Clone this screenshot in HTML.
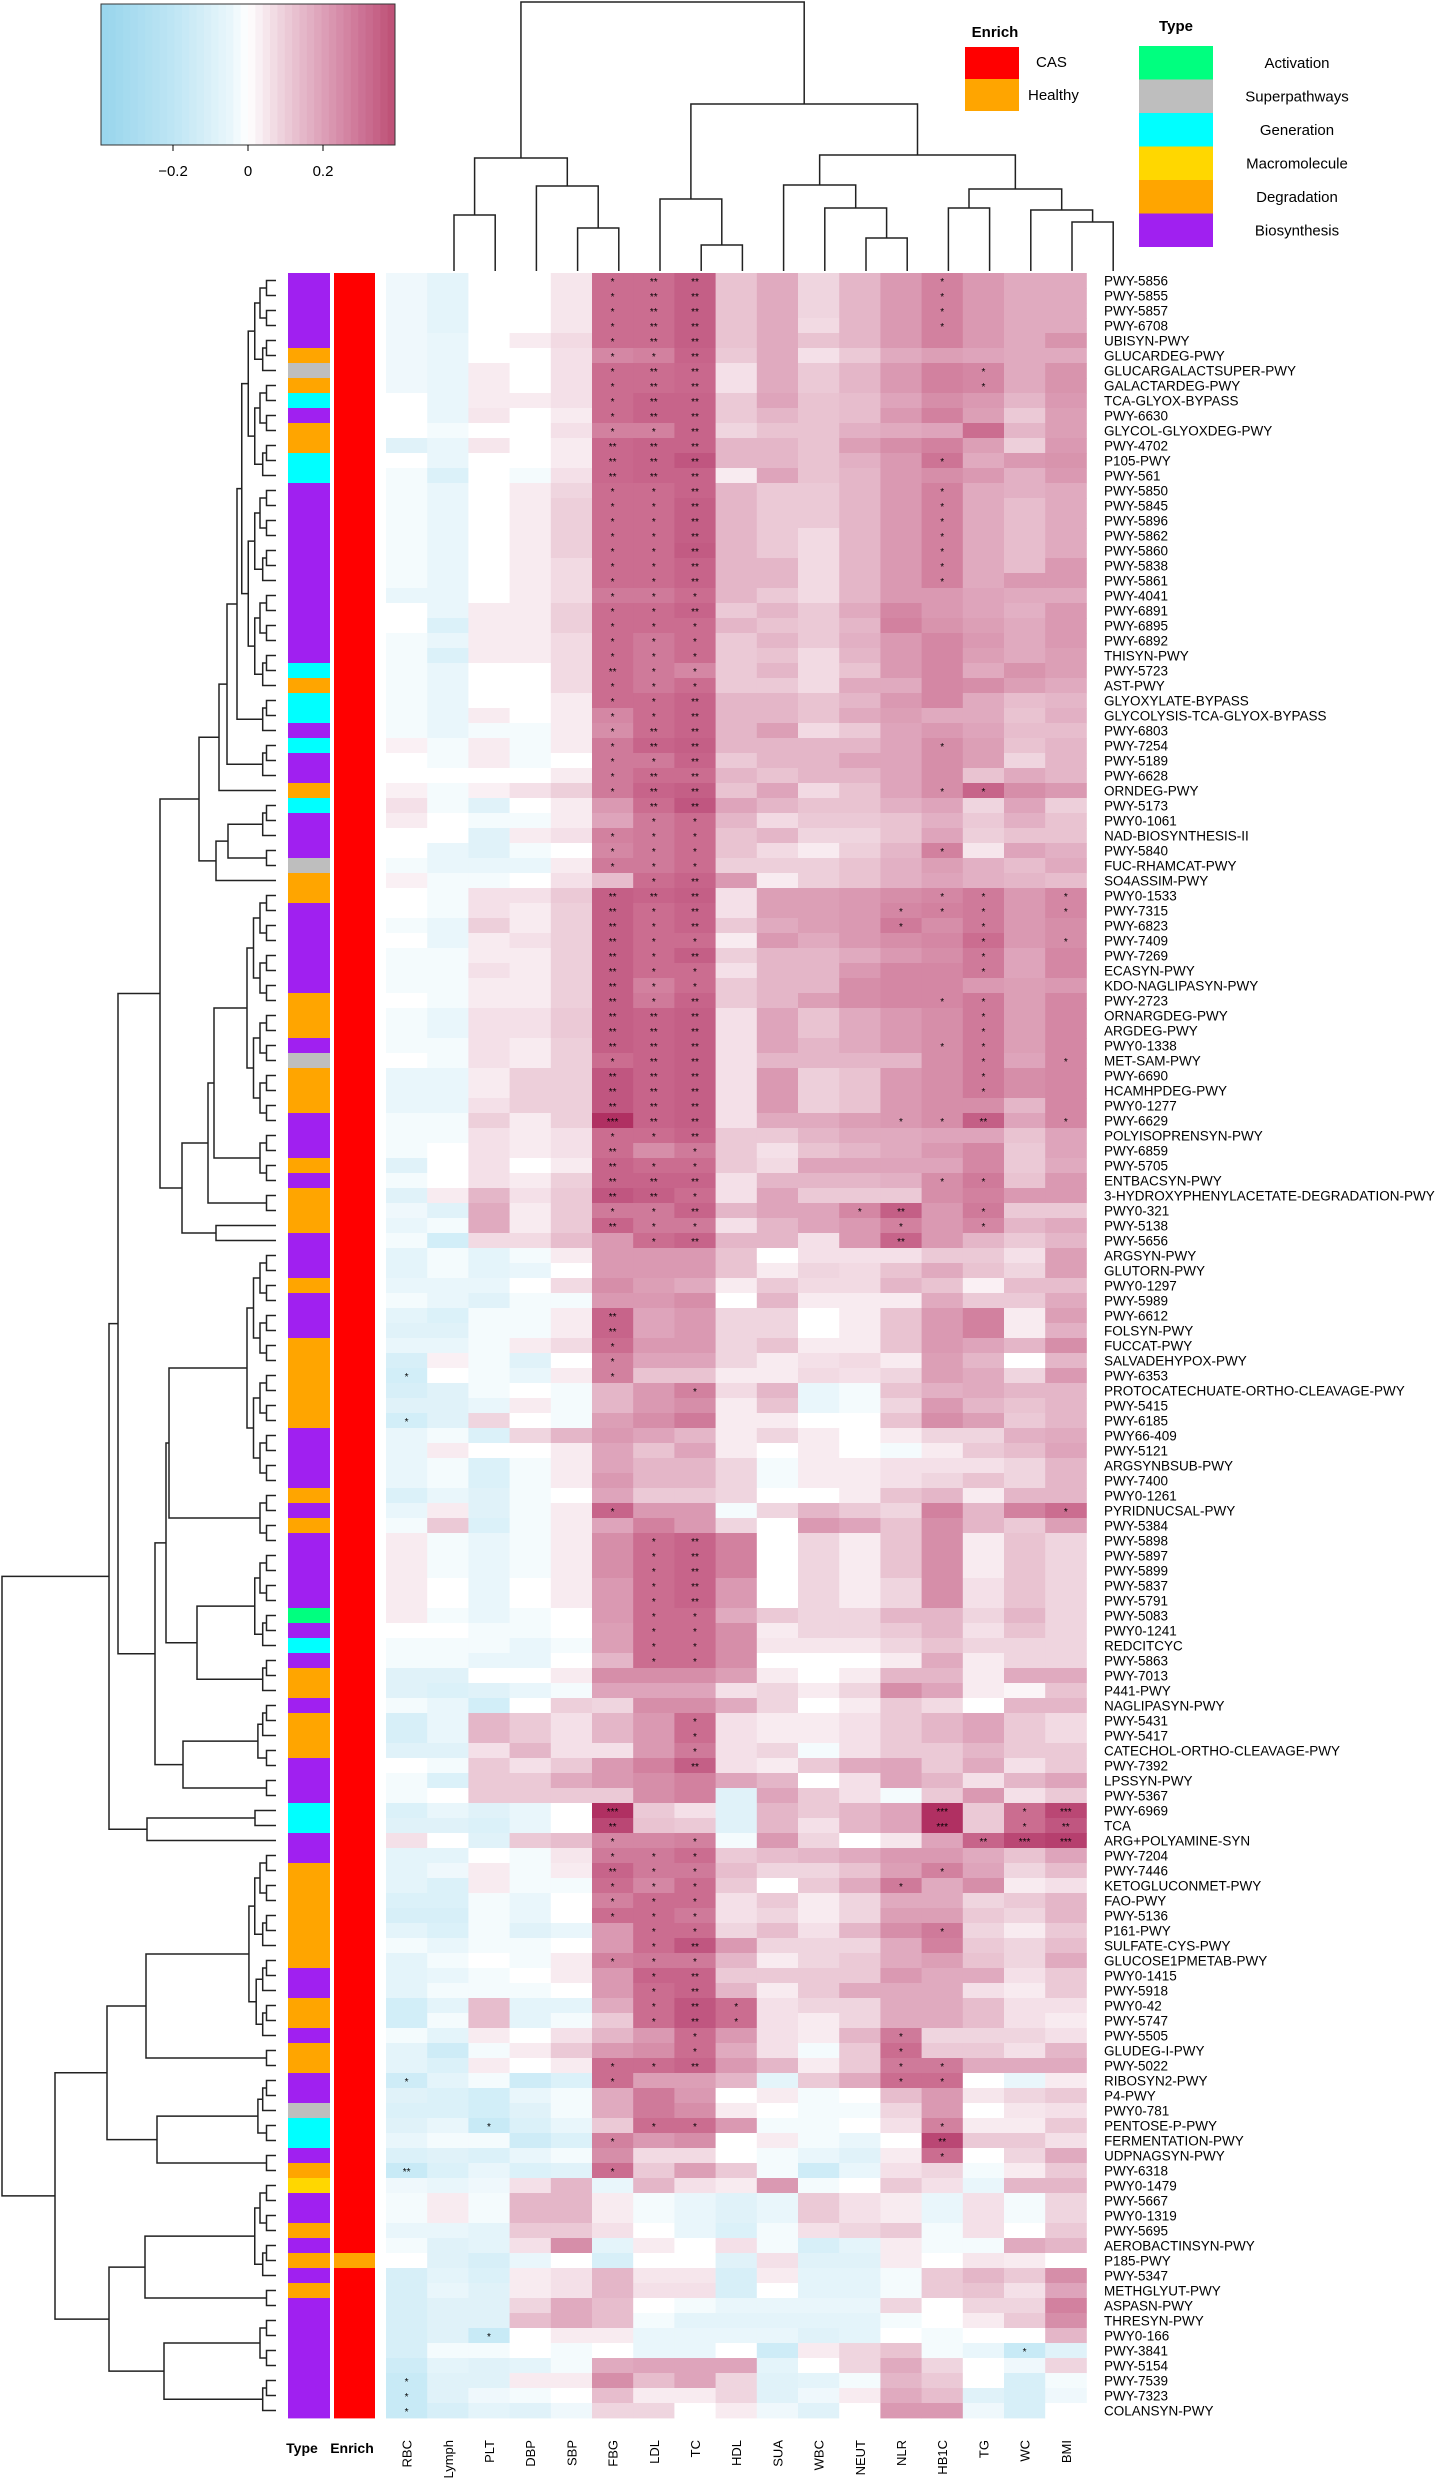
<!DOCTYPE html>
<html><head><meta charset="utf-8"><title>Correlation heatmap</title>
<style>
html,body{margin:0;padding:0;background:#fff;}
svg{display:block;font-family:"Liberation Sans",Arial,sans-serif;}
</style></head>
<body>
<svg id="chart" width="1450" height="2481" viewBox="0 0 1450 2481" xmlns="http://www.w3.org/2000/svg"></svg>
<script>
const cols=['RBC','Lymph','PLT','DBP','SBP','FBG','LDL','TC','HDL','SUA','WBC','NEUT','NLR','HB1C','TG','WC','BMI'];
const rowNames=['PWY-5856','PWY-5855','PWY-5857','PWY-6708','UBISYN-PWY','GLUCARDEG-PWY','GLUCARGALACTSUPER-PWY','GALACTARDEG-PWY','TCA-GLYOX-BYPASS','PWY-6630',
'GLYCOL-GLYOXDEG-PWY','PWY-4702','P105-PWY','PWY-561','PWY-5850','PWY-5845','PWY-5896','PWY-5862','PWY-5860','PWY-5838',
'PWY-5861','PWY-4041','PWY-6891','PWY-6895','PWY-6892','THISYN-PWY','PWY-5723','AST-PWY','GLYOXYLATE-BYPASS','GLYCOLYSIS-TCA-GLYOX-BYPASS',
'PWY-6803','PWY-7254','PWY-5189','PWY-6628','ORNDEG-PWY','PWY-5173','PWY0-1061','NAD-BIOSYNTHESIS-II','PWY-5840','FUC-RHAMCAT-PWY',
'SO4ASSIM-PWY','PWY0-1533','PWY-7315','PWY-6823','PWY-7409','PWY-7269','ECASYN-PWY','KDO-NAGLIPASYN-PWY','PWY-2723','ORNARGDEG-PWY',
'ARGDEG-PWY','PWY0-1338','MET-SAM-PWY','PWY-6690','HCAMHPDEG-PWY','PWY0-1277','PWY-6629','POLYISOPRENSYN-PWY','PWY-6859','PWY-5705',
'ENTBACSYN-PWY','3-HYDROXYPHENYLACETATE-DEGRADATION-PWY','PWY0-321','PWY-5138','PWY-5656','ARGSYN-PWY','GLUTORN-PWY','PWY0-1297','PWY-5989','PWY-6612',
'FOLSYN-PWY','FUCCAT-PWY','SALVADEHYPOX-PWY','PWY-6353','PROTOCATECHUATE-ORTHO-CLEAVAGE-PWY','PWY-5415','PWY-6185','PWY66-409','PWY-5121','ARGSYNBSUB-PWY',
'PWY-7400','PWY0-1261','PYRIDNUCSAL-PWY','PWY-5384','PWY-5898','PWY-5897','PWY-5899','PWY-5837','PWY-5791','PWY-5083',
'PWY0-1241','REDCITCYC','PWY-5863','PWY-7013','P441-PWY','NAGLIPASYN-PWY','PWY-5431','PWY-5417','CATECHOL-ORTHO-CLEAVAGE-PWY','PWY-7392',
'LPSSYN-PWY','PWY-5367','PWY-6969','TCA','ARG+POLYAMINE-SYN','PWY-7204','PWY-7446','KETOGLUCONMET-PWY','FAO-PWY','PWY-5136',
'P161-PWY','SULFATE-CYS-PWY','GLUCOSE1PMETAB-PWY','PWY0-1415','PWY-5918','PWY0-42','PWY-5747','PWY-5505','GLUDEG-I-PWY','PWY-5022',
'RIBOSYN2-PWY','P4-PWY','PWY0-781','PENTOSE-P-PWY','FERMENTATION-PWY','UDPNAGSYN-PWY','PWY-6318','PWY0-1479','PWY-5667','PWY0-1319',
'PWY-5695','AEROBACTINSYN-PWY','P185-PWY','PWY-5347','METHGLYUT-PWY','ASPASN-PWY','THRESYN-PWY','PWY0-166','PWY-3841','PWY-5154',
'PWY-7539','PWY-7323','COLANSYN-PWY'];
const rowTypes=('BBBBBDSDGB'+'DDGGBBBBBB'+'BBBBBBGDGG'+'BGBBDGBBBS'+'DDBBBBBBDD'+'DBSDDDBBBD'+'BDDDBBBDBB'+'BDDDDDDBBB'+'BDBDBBBBBA'+'BGBDDBDDDB'+'BBGGBBDDDD'+'DDDBBDDBDD'+'BBSGGBDMBB'+'DBDBDBBBBB'+'BBB').split('');
const rowEnrich=rowNames.map((n)=>n==='P185-PWY'?'Healthy':'CAS');
// correlation values in units of 0.01, one row per pathway, columns as in cols
const vals=[
[-3,-5,0,0,5,25,25,28,11,15,8,13,18,22,18,15,15],
[-3,-5,0,0,5,25,25,28,11,15,8,13,18,22,18,15,15],
[-3,-5,0,0,5,25,25,28,11,15,8,13,18,22,18,15,15],
[-3,-5,0,0,5,25,25,28,11,15,7,13,18,22,18,15,15],
[-3,-4,0,4,7,25,25,28,11,15,11,13,18,22,18,15,19],
[-3,-4,0,0,6,21,22,27,10,15,6,10,15,17,16,15,15],
[-3,-4,4,0,6,25,25,26,6,15,10,13,18,22,21,15,19],
[-3,-4,4,0,6,25,25,26,6,15,10,13,18,22,21,15,19],
[0,-4,4,4,6,25,27,27,10,16,11,12,16,20,18,13,18],
[0,-4,5,0,4,25,27,27,10,13,11,12,18,22,17,10,17],
[0,-2,0,0,6,22,22,27,8,11,11,14,15,16,25,13,17],
[-6,-4,5,0,4,26,27,27,13,13,11,17,20,22,17,9,18],
[0,-4,0,0,4,26,27,30,13,13,11,14,18,24,15,18,19],
[-2,-7,0,-2,6,26,27,27,4,16,11,13,18,20,18,14,18],
[-2,-4,0,4,8,25,25,27,13,10,10,13,18,22,15,14,15],
[-2,-4,0,4,9,25,25,28,13,10,10,13,18,22,15,12,15],
[-2,-4,0,4,9,25,25,28,13,10,10,13,18,22,15,12,15],
[-2,-4,0,4,9,25,25,28,13,10,7,13,18,22,15,12,15],
[-2,-4,0,4,9,25,25,29,13,10,7,13,18,22,15,12,15],
[-2,-4,0,4,7,25,25,27,13,13,7,13,18,22,15,12,18],
[-2,-4,0,4,7,25,25,27,13,13,7,13,18,22,15,18,18],
[-4,-4,0,4,7,23,23,25,13,10,7,13,18,18,16,15,15],
[0,-4,4,4,9,25,25,27,10,13,10,15,21,18,16,14,18],
[0,-7,4,4,9,25,25,25,13,11,10,13,22,19,17,15,18],
[-2,-4,4,4,7,25,23,25,10,13,10,14,18,21,18,15,18],
[-2,-7,4,4,7,25,23,25,10,11,7,13,18,21,17,15,17],
[-2,-4,0,0,7,25,23,21,10,13,7,11,18,21,15,19,17],
[-2,-4,0,0,7,25,23,25,10,10,7,15,15,21,20,17,15],
[-2,-4,0,0,4,25,25,27,13,13,11,13,18,21,15,12,13],
[-2,-4,4,0,4,21,25,27,13,13,11,15,17,15,15,11,14],
[-2,-4,-2,-2,4,20,25,27,13,17,7,10,16,18,16,12,12],
[3,-2,4,-2,4,23,27,28,13,13,13,13,16,20,17,11,13],
[0,-2,4,-2,0,23,23,27,10,13,13,16,16,20,17,8,13],
[0,0,0,0,4,23,25,25,13,11,13,13,16,20,11,15,13],
[3,-2,3,6,9,23,27,28,11,16,7,11,16,20,27,20,18],
[6,-2,-6,0,4,18,25,30,16,13,11,11,14,16,8,16,9],
[4,0,-2,-2,4,16,23,25,13,7,10,10,11,14,10,14,11],
[0,0,-6,4,6,22,23,25,11,13,8,8,11,16,9,11,11],
[0,-4,-6,-2,0,21,23,25,11,7,4,9,13,22,5,16,14],
[-2,-4,-4,-4,4,23,23,25,9,9,9,11,14,17,14,12,15],
[3,-2,-2,0,6,12,25,27,18,4,9,11,14,16,14,13,12],
[0,-2,6,6,10,28,27,28,6,17,17,18,20,21,23,18,21],
[0,-2,6,4,9,28,25,27,6,17,17,18,21,22,23,18,21],
[-2,-4,9,4,9,28,25,27,10,15,17,18,23,20,23,18,20],
[0,-4,4,6,9,28,25,25,4,18,15,18,20,21,25,18,20],
[-2,-2,4,4,9,28,25,28,9,13,13,15,18,20,23,16,21],
[-2,-2,6,4,9,28,25,25,6,13,13,18,21,21,23,16,21],
[-2,-2,4,4,9,28,22,25,10,13,13,20,21,21,18,17,18],
[0,-2,4,4,9,28,23,27,10,13,17,20,21,21,23,17,21],
[-2,-4,6,6,10,28,27,28,6,16,11,15,18,20,23,17,21],
[-2,-4,6,6,10,28,27,28,6,16,11,15,18,20,23,17,21],
[-2,-2,6,4,9,28,27,28,6,16,13,15,18,20,23,17,21],
[0,-2,6,4,9,25,27,28,6,13,13,13,13,20,23,16,21],
[-4,-4,4,9,9,30,27,28,6,18,9,11,18,20,23,20,21],
[-4,-4,4,9,9,30,27,28,6,18,9,11,18,20,23,20,21],
[-4,-4,6,9,9,30,27,28,6,18,9,11,18,20,20,13,21],
[-2,-2,9,4,9,35,27,28,6,15,15,17,18,20,28,16,21],
[-2,-2,6,4,6,25,25,27,10,10,13,15,15,16,16,11,16],
[-2,0,6,4,6,25,20,23,10,6,11,13,15,18,21,10,16],
[-6,0,6,0,4,27,25,25,10,7,16,16,16,16,21,10,15],
[-2,0,6,4,9,27,27,27,6,13,13,13,14,20,23,11,18],
[-6,4,13,6,10,30,28,25,6,16,10,10,10,20,22,18,18],
[-3,-6,15,4,10,23,23,27,13,16,16,21,28,18,23,10,10],
[-4,-2,15,4,10,27,23,23,6,13,16,18,22,18,21,13,15],
[-2,-9,7,7,12,18,25,27,13,13,6,18,27,18,13,10,13],
[-5,-2,-5,-2,4,18,18,18,11,0,6,6,6,10,10,6,17],
[-5,-2,-5,-4,0,18,18,18,11,4,8,7,11,15,11,8,17],
[-4,-4,-4,0,7,20,17,15,4,10,7,7,13,11,3,12,12],
[-2,-4,-6,-2,-2,18,18,20,0,13,4,4,4,15,10,10,15],
[-5,-7,-2,-2,4,27,16,18,8,8,0,4,11,18,22,4,17],
[-6,-6,-2,-2,4,27,16,18,8,8,0,4,11,18,22,4,14],
[-4,-4,-2,4,7,25,18,18,8,11,4,4,11,18,16,13,20],
[-8,3,-2,-6,0,22,16,16,8,4,6,7,4,17,13,0,13],
[-9,0,-2,-4,4,22,11,11,4,4,7,6,8,17,15,8,18],
[-8,-6,-2,0,-2,13,18,22,7,13,-4,-2,11,14,15,13,13],
[-6,-6,-4,4,-2,13,18,20,4,11,-4,-2,8,18,13,11,13],
[-9,-6,8,0,-2,17,20,23,4,4,0,0,11,20,17,10,13],
[-4,-2,-7,8,13,18,16,13,4,8,4,0,4,8,8,14,15],
[-4,4,0,0,4,16,11,16,4,0,4,0,-2,4,10,12,16],
[-4,-2,-7,-2,4,16,13,13,8,-2,4,4,6,6,6,8,13],
[-4,-2,-7,-2,4,18,13,13,8,-2,4,4,6,8,11,8,13],
[-7,-4,-6,-2,0,16,10,10,8,0,0,4,11,13,4,13,13],
[-4,4,-6,-2,4,27,18,18,-2,8,13,10,8,22,13,22,25],
[-2,10,-7,-2,4,16,22,18,8,0,18,16,11,20,13,10,17],
[4,-2,-4,-2,4,20,25,27,22,0,8,4,11,20,4,11,8],
[4,-2,-4,-2,4,20,25,27,22,0,8,4,11,20,4,11,8],
[4,-2,-4,-2,4,20,25,27,22,0,8,4,11,20,4,11,8],
[4,0,-4,0,4,18,25,27,18,0,8,4,8,20,6,11,8],
[4,0,-4,0,4,18,25,27,18,0,8,4,8,20,6,11,8],
[4,-2,-4,-2,0,18,25,25,15,10,8,8,13,13,8,13,8],
[0,0,-2,-2,0,17,25,25,20,4,8,8,10,13,6,11,8],
[-2,-2,-2,-4,-2,17,25,25,20,5,5,5,8,11,8,8,8],
[-2,-2,-4,-4,0,13,25,25,20,0,0,0,4,15,4,8,8],
[-6,-6,0,0,4,20,20,20,17,4,0,4,13,13,4,15,15],
[-6,-7,-6,-4,-2,16,16,16,6,8,4,8,20,16,4,2,11],
[-2,-4,-9,0,9,8,20,20,15,8,0,4,10,7,0,13,13],
[-8,-4,13,10,6,13,18,25,6,4,4,6,10,13,16,10,7],
[-8,-4,13,10,6,13,18,25,6,4,4,6,10,13,16,10,7],
[-6,-6,6,13,6,6,18,23,6,8,-2,6,10,10,13,10,10],
[0,-2,10,6,10,18,22,28,6,4,10,15,16,10,15,6,10],
[-2,-7,10,10,15,18,20,22,16,13,0,6,16,13,6,13,16],
[-2,0,10,10,10,10,20,22,-6,16,10,6,-2,10,18,6,10],
[-7,-4,-6,-4,0,35,10,6,-6,13,10,13,16,35,10,25,32],
[-6,-6,-7,-4,0,32,11,10,-6,13,6,13,16,35,10,25,30],
[6,0,-6,10,12,21,21,22,-2,18,8,0,5,16,27,32,33],
[-5,-5,0,-2,5,23,23,25,10,12,13,15,18,18,15,11,16],
[-5,-3,4,-2,4,27,23,23,12,8,8,11,17,22,16,8,12],
[-5,-7,4,-2,-2,25,21,25,10,0,10,15,23,15,20,4,6],
[-7,-7,-2,-4,0,22,25,25,6,10,4,8,15,15,8,10,13],
[-8,-8,-2,-4,0,25,25,23,6,8,4,8,17,17,10,8,13],
[-5,-7,-2,-6,-4,18,25,25,8,12,6,13,20,23,8,4,10],
[-2,-4,-2,-2,0,18,25,30,18,8,8,8,15,22,10,8,12],
[-5,-2,0,-2,4,22,23,23,13,4,8,10,15,17,11,8,15],
[-5,-4,-2,0,4,18,27,27,10,10,10,10,18,15,15,6,10],
[-5,-2,-2,-2,0,18,25,27,13,4,10,15,15,15,6,4,10],
[-9,-5,12,-5,-5,15,25,30,25,6,8,8,15,15,12,6,6],
[-9,-2,12,-5,-2,10,25,30,25,6,4,8,15,15,12,6,4],
[-2,-5,4,0,6,13,18,25,18,6,4,13,23,8,8,8,6],
[-5,-10,-2,4,10,18,20,25,15,6,-2,10,25,10,10,6,13],
[-5,-7,4,0,4,25,25,27,18,13,4,10,23,23,15,15,15],
[-10,-5,-2,-10,-7,25,17,17,13,-5,10,15,25,25,0,-4,4],
[-6,-7,-9,-4,-2,15,23,18,0,4,-2,0,12,18,5,8,10],
[-7,-7,-9,-6,-2,15,23,20,4,0,-2,-2,8,18,0,5,6],
[-6,-4,-12,-7,-4,10,25,25,18,-2,-2,0,6,22,4,4,10],
[-4,-2,-2,-10,-7,22,18,20,0,4,-2,-4,0,32,10,10,6],
[-7,-6,-7,-4,-2,20,7,7,0,-2,-4,-6,4,25,0,8,15],
[-12,-7,-4,-7,-6,25,10,17,10,-2,-10,-4,6,8,-2,4,10],
[-3,-4,-3,6,13,-4,13,6,4,18,-2,0,10,6,-4,13,13],
[-2,4,-2,13,13,4,-2,-4,-6,-4,10,6,4,-4,6,-2,8],
[-2,4,-2,13,13,4,-2,-4,-6,-4,10,6,4,-4,6,-2,8],
[-4,-4,-5,10,10,6,0,-4,-7,-2,6,8,10,-2,6,0,10],
[-2,-6,-5,6,20,-5,4,0,6,-2,-8,-5,4,-2,-2,15,13],
[0,-6,-8,-4,0,-8,0,0,-6,6,-6,-6,4,0,5,4,0],
[-8,-5,-7,4,6,13,5,5,-8,4,-5,-5,-2,10,13,10,20],
[-8,-4,-6,4,6,13,6,6,-8,0,-5,-5,-2,10,11,6,16],
[-8,-6,-6,8,15,12,0,-2,-4,-4,-4,-4,8,0,8,8,22],
[-8,-6,-6,12,15,12,-2,-5,-5,-5,-5,-5,-2,0,4,10,20],
[-8,-6,-12,0,4,4,-4,-4,-4,-4,-6,-5,0,-2,0,0,13],
[-8,-2,-2,0,-2,0,-4,-4,0,-10,4,8,11,-2,-4,-12,-6],
[-10,-5,-6,-5,-2,15,16,16,16,-5,0,8,15,8,0,-3,8],
[-12,-6,-6,4,4,20,12,16,8,-6,-5,-2,13,10,0,-8,-2],
[-12,-6,-3,-2,0,12,4,4,8,-6,-3,4,15,12,-6,-8,-3],
[-12,-8,-5,-6,-3,8,8,0,4,-3,-6,0,18,18,-3,-8,0]
];
// significance marks: row index -> "col:mark" list
const sig={0:'5*|6**|7**|13*',1:'5*|6**|7**|13*',2:'5*|6**|7**|13*',3:'5*|6**|7**|13*',4:'5*|6**|7**',5:'5*|6*|7**',
6:'5*|6**|7**|14*',7:'5*|6**|7**|14*',8:'5*|6**|7**',9:'5*|6**|7**',10:'5*|6*|7**',11:'5**|6**|7**',12:'5**|6**|7**|13*',
13:'5**|6**|7**',14:'5*|6*|7**|13*',15:'5*|6*|7**|13*',16:'5*|6*|7**|13*',17:'5*|6*|7**|13*',18:'5*|6*|7**|13*',19:'5*|6*|7**|13*',
20:'5*|6*|7**|13*',21:'5*|6*|7*',22:'5*|6*|7**',23:'5*|6*|7*',24:'5*|6*|7*',25:'5*|6*|7*',26:'5**|6*|7*',27:'5*|6*|7*',
28:'5*|6*|7**',29:'5*|6*|7**',30:'5*|6**|7**',31:'5*|6**|7**|13*',32:'5*|6*|7**',33:'5*|6**|7**',34:'5*|6**|7**|13*|14*',
35:'6**|7**',36:'6*|7*',37:'5*|6*|7*',38:'5*|6*|7*|13*',39:'5*|6*|7*',40:'6*|7**',41:'5**|6**|7**|13*|14*|16*',
42:'5**|6*|7**|12*|13*|14*|16*',43:'5**|6*|7**|12*|14*',44:'5**|6*|7*|14*|16*',45:'5**|6*|7**|14*',46:'5**|6*|7*|14*',
47:'5**|6*|7*',48:'5**|6*|7**|13*|14*',49:'5**|6**|7**|14*',50:'5**|6**|7**|14*',51:'5**|6**|7**|13*|14*',52:'5*|6**|7**|14*|16*',
53:'5**|6**|7**|14*',54:'5**|6**|7**|14*',55:'5**|6**|7**',56:'5***|6**|7**|12*|13*|14**|16*',57:'5*|6*|7**',58:'5**|7*',
59:'5**|6*|7*',60:'5**|6**|7**|13*|14*',61:'5**|6**|7*',62:'5*|6*|7**|11*|12**|14*',63:'5**|6*|7*|12*|14*',64:'6*|7**|12**',
69:'5**',70:'5**',71:'5*',72:'5*',73:'0*|5*',74:'7*',76:'0*',82:'5*|16*',84:'6*|7**',85:'6*|7**',86:'6*|7**',87:'6*|7**',
88:'6*|7**',89:'6*|7*',90:'6*|7*',91:'6*|7*',92:'6*|7*',96:'7*',97:'7*',98:'7*',99:'7**',102:'5***|13***|15*|16***',
103:'5**|13***|15*|16**',104:'5*|7*|14**|15***|16***',105:'5*|6*|7*',106:'5**|6*|7*|13*',107:'5*|6*|7*|12*',108:'5*|6*|7*',
109:'5*|6*|7*',110:'6*|7*|13*',111:'6*|7**',112:'5*|6*|7*',113:'6*|7**',114:'6*|7**',115:'6*|7**|8*',116:'6*|7**|8*',
117:'7*|12*',118:'7*|12*',119:'5*|6*|7**|12*|13*',120:'0*|5*|12*|13*',123:'2*|6*|7*|13*',124:'5*|13**',125:'13*',
126:'0**|5*',137:'2*',138:'15*',140:'0*',141:'0*',142:'0*'};
// column dendrogram: [height, left, right], leaves = column-leaf index
const colTree=[269,[113,[56,0,1],[85,2,[43,3,4]]],[167,[72,5,[26,6,7]],[116,[86,8,[63,9,[33,10,11]]],[82,[63,12,13],[61,14,[49,15,16]]]]]];
const typeColors={A:'#00FF7F',S:'#BEBEBE',G:'#00FFFF',M:'#FFD700',D:'#FFA500',B:'#A020F0'};
const typeLabels=[['A','Activation'],['S','Superpathways'],['G','Generation'],['M','Macromolecule'],['D','Degradation'],['B','Biosynthesis']];
const enrichColors={CAS:'#FF0000',Healthy:'#FFA500'};

const NS='http://www.w3.org/2000/svg';
const svg=document.getElementById('chart');
const X0=386, CW=41.2, Y0=273, RH=15;
const xCol=i=>X0+i*CW;
const yRow=r=>Y0+r*RH;
function mk(tag,attrs,parent){const e=document.createElementNS(NS,tag);for(const k in attrs)e.setAttribute(k,attrs[k]);(parent||svg).appendChild(e);return e;}
const stops=[[-0.40,[130,204,234]],[-0.2,[178,224,242]],[-0.1,[206,236,247]],[-0.05,[228,244,250]],[0,[255,255,255]],[0.05,[246,230,236]],[0.1,[235,201,214]],[0.15,[224,170,191]],[0.2,[214,142,169]],[0.25,[203,109,144]],[0.3,[192,86,128]],[0.35,[176,48,98]],[0.4,[168,32,88]]];
function colorFrom(st,v){v=Math.max(-0.4,Math.min(0.4,v));for(let i=1;i<st.length;i++){if(v<=st[i][0]){const a=st[i-1],b=st[i];const t=(v-a[0])/(b[0]-a[0]);const c=a[1].map((x,j)=>Math.round(x+(b[1][j]-x)*t));return `rgb(${c[0]},${c[1]},${c[2]})`;}}const l=st[st.length-1][1];return `rgb(${l[0]},${l[1]},${l[2]})`;}
const color=v=>colorFrom(stops,v);
const keyStops=[[-0.40,[150,212,236]],[-0.2,[190,229,244]],[-0.05,[232,246,251]],[0,[255,255,255]],[0.1,[236,204,216]],[0.2,[221,160,184]],[0.3,[205,116,150]],[0.4,[188,76,114]]];

// heatmap cells
const gH=mk('g',{});


vals.forEach((row,r)=>{row.forEach((v,c)=>{
  const cell=mk('rect',{x:xCol(c),y:yRow(r),width:CW+0.4,height:RH+0.4,fill:color(v/100)},gH);
  
  
});});
// significance
const gS=mk('g',{'font-size':'10','text-anchor':'middle',fill:'#000'});


Object.keys(sig).forEach(k=>{const r=+k;sig[k].split('|').forEach(s=>{const c=parseInt(s);const m=s.replace(/^\d+/,'');
  const t=mk('text',{x:xCol(c)+CW/2,y:yRow(r)+RH/2+4.5},gS);t.textContent=m;
  
  });});
// annotation columns
rowTypes.forEach((t,r)=>{const e=mk('rect',{x:288,y:yRow(r),width:42,height:RH+0.4,fill:typeColors[t]});
  
  
  const f=mk('rect',{x:334,y:yRow(r),width:41,height:RH+0.4,fill:enrichColors[rowEnrich[r]]});
  
  });
// row labels
const gL=mk('g',{'font-size':'13.5',fill:'#000'});


rowNames.forEach((n,r)=>{const t=mk('text',{x:1104,y:yRow(r)+RH/2+5},gL);t.textContent=n;
  
  });
// column labels
cols.forEach((n,c)=>{const cx=xCol(c)+CW/2+5;const t=mk('text',{x:cx,y:2440,'font-size':'13','text-anchor':'end',transform:`rotate(-90 ${cx} 2440)`});t.textContent=n;
  
  });
[['Type',302],['Enrich',352]].forEach(([n,x])=>{const t=mk('text',{x:x,y:2453,'font-size':'14','font-weight':'bold','text-anchor':'middle'});t.textContent=n;
  
  });

// column dendrogram
const gD=mk('g',{stroke:'#222','stroke-width':'1.5',fill:'none'});


const LEAF0=454, LBOT=271;
function drawCol(n){if(typeof n==='number')return {x:LEAF0+n*CW,y:LBOT};
  const a=drawCol(n[1]),b=drawCol(n[2]);const y=LBOT-n[0];
  mk('path',{d:`M${a.x},${a.y}V${y}H${b.x}V${b.y}`},gD);return {x:(a.x+b.x)/2,y:y};}
drawCol(colTree);

// row dendrogram
const G=(a,b)=>{if(a===b)return a;const m=Math.floor((a+b)/2);const n=b-a+1;return [276-3-6.5*Math.log2(n),G(a,m),G(m+1,b)];};
const rowTree=[2,
 [109,[118,
   [160,[199,[219,[227,[237,G(0,27),G(28,30)],G(31,33)],34],[216,[228,G(35,37),G(38,39)],40]],
        [182,[208,[214,G(41,56),G(57,60)],G(61,62)],[216,63,64]]],
   [155,[166,[168,G(65,80),G(81,84)],[197,G(85,91),G(92,94)]],[183,G(95,99),G(100,101)]]],
  [147,[255,102,103],104]],
 [55,[107,[146,G(105,117),G(118,119)],[157,G(120,124),G(125,126)]],
     [109,[145,G(127,133),G(134,135)],[164,G(136,139),G(140,142)]]]];
const gR=mk('g',{stroke:'#222','stroke-width':'1.5',fill:'none'});


const LRIGHT=276;
function drawRow(n,px){if(typeof n==='number')return {x:LRIGHT,y:yRow(n)+RH/2};
  const x=Math.max(n[0],px+3);const a=drawRow(n[1],x),b=drawRow(n[2],x);
  mk('path',{d:`M${a.x},${a.y}H${x}V${b.y}H${b.x}`},gR);return {x:x,y:(a.y+b.y)/2};}
drawRow(rowTree,-10);

// color key
const gK=mk('g',{});


const kx=v=>248+v*375;
for(let i=0;i<40;i++){const v0=-0.392+i*0.0196;mk('rect',{x:kx(v0),y:4,width:0.0196*375+0.5,height:141,fill:colorFrom(keyStops,v0+0.0098)},gK);}
mk('rect',{x:kx(-0.392),y:4,width:0.784*375,height:141,fill:'none',stroke:'#333','stroke-width':'1'},gK);
[-0.2,0,0.2].forEach(v=>{mk('line',{x1:kx(v),x2:kx(v),y1:145,y2:151,stroke:'#000'},gK);
  const t=mk('text',{x:kx(v),y:176,'font-size':'15','text-anchor':'middle'},gK);t.textContent=(v===0?'0':(v<0?'\u22120.2':'0.2'));
  
  });

// enrich legend
const gE=mk('g',{'font-size':'15'});


let t=mk('text',{x:995,y:37,'text-anchor':'middle','font-weight':'bold'},gE);t.textContent='Enrich';
[['CAS',47,1036,67],['Healthy',79,1028,100]].forEach(([n,y,tx,ty])=>{const r=mk('rect',{x:965,y:y,width:54,height:32,fill:enrichColors[n]},gE);
  
  
  const l=mk('text',{x:tx,y:ty},gE);l.textContent=n;});
// type legend
const gT=mk('g',{'font-size':'15'});


t=mk('text',{x:1176,y:31,'text-anchor':'middle','font-weight':'bold'},gT);t.textContent='Type';
typeLabels.forEach(([k,n],i)=>{const y=46+i*33.5;const r=mk('rect',{x:1139,y:y,width:74,height:33.5,fill:typeColors[k]},gT);
  
  
  const l=mk('text',{x:1297,y:y+22,'text-anchor':'middle'},gT);l.textContent=n;});
</script>
</body></html>
